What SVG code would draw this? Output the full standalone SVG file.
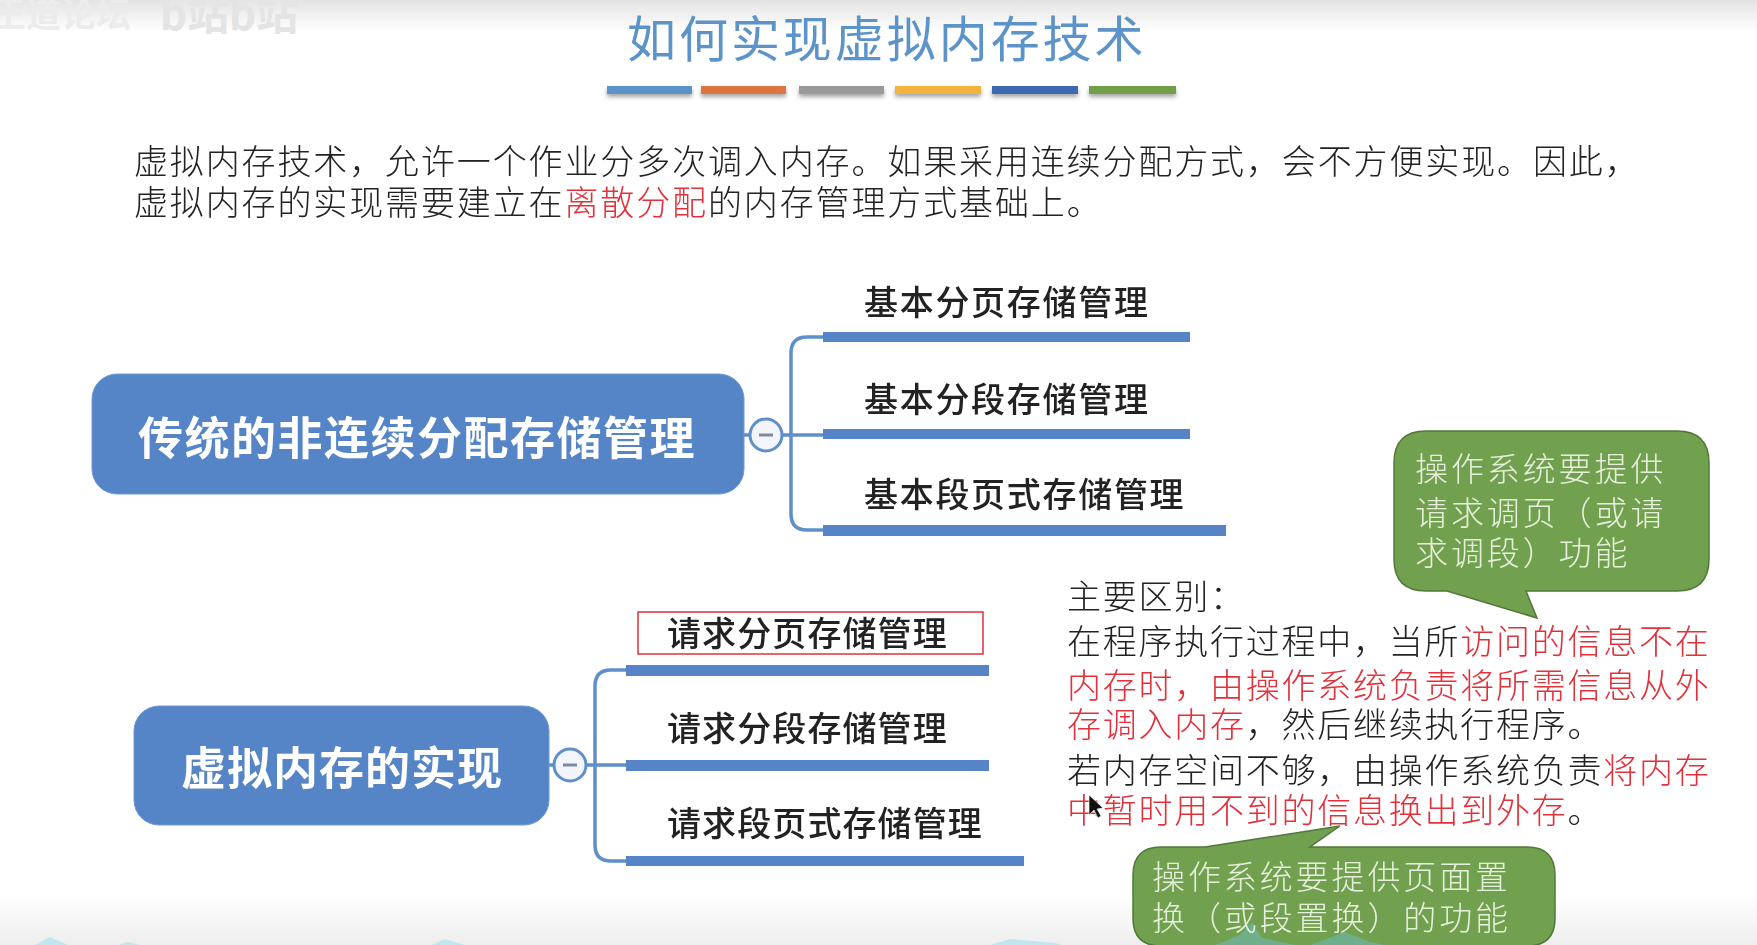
<svg xmlns="http://www.w3.org/2000/svg" width="1757" height="945" viewBox="0 0 1757 945">
<style>
text{font-family:"Noto Sans CJK SC","Noto Sans",sans-serif;}
.body{font-size:34px;letter-spacing:1.87px;fill:#222;font-weight:300}
.note{font-size:34px;letter-spacing:1.75px;fill:#222;font-weight:300}
.r{fill:#e0303a}
.title{font-size:49px;letter-spacing:2.95px;fill:#5b93c8}
.head{font-size:45px;font-weight:700;fill:#fff;letter-spacing:1px}
.wide{letter-spacing:1.5px}
.leaf{font-size:34px;font-weight:500;fill:#222;letter-spacing:1.7px}
.req{letter-spacing:1.1px}
.bub{font-size:33px;fill:#e6efdc;letter-spacing:2.9px;font-weight:300}
.node{fill:#5585c6;stroke:#6f9ad2;stroke-width:1}
.bar{fill:#5585c6}
.conn{fill:none;stroke:#5f8fcb;stroke-width:3.5}
.tog{fill:#f3f5fb;stroke:#5f8fcb;stroke-width:3}
.dash{stroke:#7c8ba5;stroke-width:3}
.green{fill:#71a04e;stroke:#51783a;stroke-width:1.5}
</style>
<defs>
<linearGradient id="top" x1="0" y1="0" x2="0" y2="1"><stop offset="0" stop-color="#e4e4e4"/><stop offset="1" stop-color="#fff"/></linearGradient>
<linearGradient id="bot" x1="0" y1="0" x2="0" y2="1"><stop offset="0" stop-color="#fff"/><stop offset="1" stop-color="#eeeeee"/></linearGradient>
<filter id="sh" x="-10%" y="-50%" width="120%" height="250%"><feDropShadow dx="0" dy="3" stdDeviation="2" flood-color="#000" flood-opacity=".35"/></filter>
<filter id="soft"><feGaussianBlur stdDeviation="0.45"/></filter>
</defs>
<rect width="1757" height="945" fill="#fff"/>
<rect width="1757" height="32" fill="url(#top)"/>
<rect y="895" width="1757" height="50" fill="url(#bot)"/>
<g id="watermark" fill="#e2e2e2" font-weight="700">
<text x="-9" y="27" font-size="35" fill="#ececec">王道论坛</text>
<text x="160" y="30" font-size="42" fill="#e4e4e4">b站b站</text>
</g>
<g id="bottom-edge" fill="#c2e6ee">
<path d="M35 945L50 937L68 945ZM118 945L128 942L140 945ZM432 945L445 939L465 945ZM990 945L1010 939L1055 943L1062 945Z"/>
</g>
<g id="title" filter="url(#soft)">
<text class="title" x="627" y="57">如何实现虚拟内存技术</text>
</g>
<g id="title-bars" filter="url(#sh)">
<rect x="607" y="86" width="85" height="8" fill="#5b93c8"/>
<rect x="701" y="86" width="85" height="8" fill="#dd7440"/>
<rect x="799" y="86" width="85" height="8" fill="#9a9a9a"/>
<rect x="895" y="86" width="86" height="8" fill="#f2b43c"/>
<rect x="992" y="86" width="86" height="8" fill="#3e69b0"/>
<rect x="1089" y="86" width="87" height="8" fill="#6f9e48"/>
</g>
<g id="intro" filter="url(#soft)">
<text class="body" x="134" y="174">虚拟内存技术，允许一个作业分多次调入内存。如果采用连续分配方式，会不方便实现。因此，</text>
<text class="body" x="134" y="215">虚拟内存的实现需要建立在<tspan class="r">离散分配</tspan>的内存管理方式基础上。</text>
</g>
<g id="connectors">
<path class="conn" d="M744 435H823"/>
<path class="conn" d="M823 337H807Q791 337 791 353V514Q791 530 807 530H823"/>
<path class="conn" d="M548 765H626"/>
<path class="conn" d="M626 670H611Q595 670 595 686V845Q595 861 611 861H626"/>
</g>
<g id="node-traditional">
<rect class="node" x="92" y="374" width="652" height="120" rx="25"/>
<text class="head wide" x="138" y="455" filter="url(#soft)">传统的非连续分配存储管理</text>
</g>
<g id="toggle-traditional">
<circle class="tog" cx="766" cy="435" r="16"/><path class="dash" d="M759 435H773"/>
</g>
<g id="leaf-paging" filter="url(#soft)">
<text class="leaf" x="864" y="315">基本分页存储管理</text>
<rect class="bar" x="823" y="332" width="367" height="10"/>
</g>
<g id="leaf-segment" filter="url(#soft)">
<text class="leaf" x="864" y="412">基本分段存储管理</text>
<rect class="bar" x="823" y="429" width="367" height="10"/>
</g>
<g id="leaf-segpage" filter="url(#soft)">
<text class="leaf" x="864" y="507">基本段页式存储管理</text>
<rect class="bar" x="823" y="525" width="403" height="11"/>
</g>
<g id="node-virtual">
<rect class="node" x="134" y="706" width="415" height="119" rx="25"/>
<text class="head" x="181" y="785" filter="url(#soft)">虚拟内存的实现</text>
</g>
<g id="toggle-virtual">
<circle class="tog" cx="570" cy="765" r="16"/><path class="dash" d="M563 765H577"/>
</g>
<g id="leaf-req-paging" filter="url(#soft)">
<rect x="638" y="612" width="345" height="42" fill="none" stroke="#e0303a" stroke-width="1.5"/>
<text class="leaf req" x="667" y="646">请求分页存储管理</text>
<rect class="bar" x="626" y="665" width="363" height="11"/>
</g>
<g id="leaf-req-segment" filter="url(#soft)">
<text class="leaf req" x="667" y="741">请求分段存储管理</text>
<rect class="bar" x="626" y="760" width="363" height="11"/>
</g>
<g id="leaf-req-segpage" filter="url(#soft)">
<text class="leaf req" x="667" y="836">请求段页式存储管理</text>
<rect class="bar" x="626" y="856" width="398" height="10"/>
</g>
<g id="notes" filter="url(#soft)">
<text class="note" x="1067" y="609">主要区别：</text>
<text class="note" x="1067" y="654">在程序执行过程中，当所<tspan class="r">访问的信息不在</tspan></text>
<text class="note" x="1067" y="698"><tspan class="r">内存时，由操作系统负责将所需信息从外</tspan></text>
<text class="note" x="1067" y="737"><tspan class="r">存调入内存</tspan>，然后继续执行程序。</text>
<text class="note" x="1067" y="783">若内存空间不够，由操作系统负责<tspan class="r">将内存</tspan></text>
<text class="note" x="1067" y="823"><tspan class="r">中暂时用不到的信息换出到外存</tspan>。</text>
</g>
<g id="callout-request">
<path class="green" d="M1426 431H1677Q1709 431 1709 463V559Q1709 591 1677 591H1526L1537 618L1447 591H1426Q1394 591 1394 559V463Q1394 431 1426 431Z"/>
<g filter="url(#soft)">
<text class="bub" x="1415" y="481">操作系统要提供</text>
<text class="bub" x="1415" y="525">请求调页（或请</text>
<text class="bub" x="1415" y="565">求调段）功能</text>
</g>
</g>
<g id="callout-replace">
<path class="green" d="M1161 847H1205L1340 826L1310 847H1527Q1555 847 1555 875V918Q1555 946 1527 946H1161Q1133 946 1133 918V875Q1133 847 1161 847Z"/>
<path d="M1215 945L1240 935L1252 922L1262 938L1295 945ZM1310 945L1345 932L1370 942L1385 945Z" fill="#6fae8a"/>
<g filter="url(#soft)">
<text class="bub" x="1152" y="889">操作系统要提供页面置</text>
<text class="bub" x="1152" y="930">换（或段置换）的功能</text>
</g>
</g>
<path id="cursor" d="M1089 795V815L1094 810L1098 818L1101 816L1097 809L1103 808Z" fill="#111" stroke="#fff" stroke-width=".6"/>
</svg>
